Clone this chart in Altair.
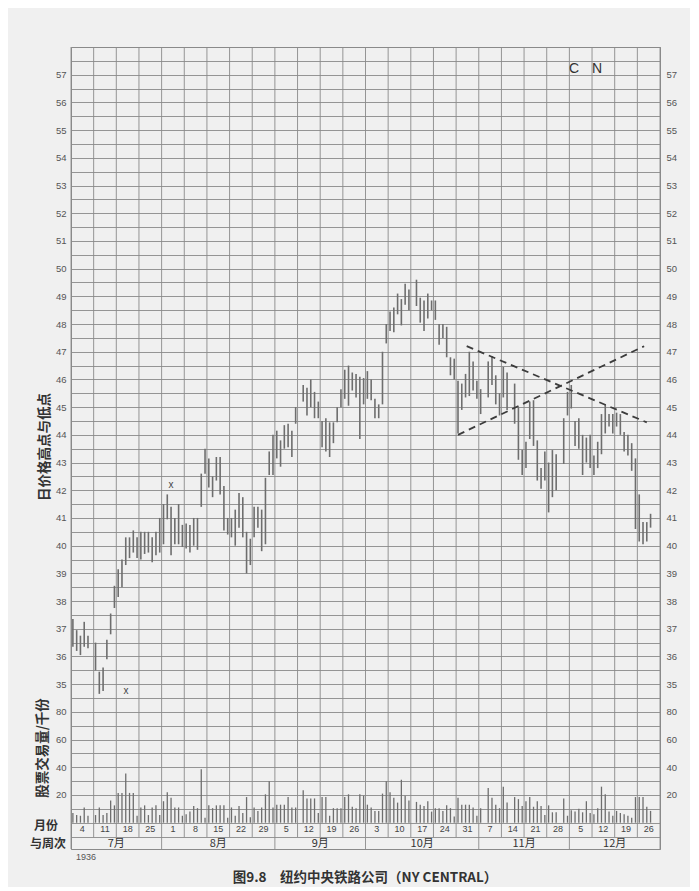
import altair as alt
import pandas as pd

# ---------------- data ----------------
WEEK_LABELS = ["4", "11", "18", "25", "1", "8", "15", "22", "29", "5", "12", "19", "26",
               "3", "10", "17", "24", "31", "7", "14", "21", "28", "5", "12", "19", "26"]
MONTHS = ["7月", "8月", "9月", "10月", "11月", "12月"]
WEEKS_PER_MONTH = [4, 5, 4, 5, 4, 4]
# six trading-day slots per week; slots without a bar (holidays)
NO_TRADE_SLOTS = [5, 60, 90, 109, 116, 129, 154, 155]

HIGH = [
    37.35, 36.95, 36.75, 37.25, 36.75,
    36.5, 35.45, 35.6, 36.6, 37.55, 38.55,
    39.15, 39.5, 40.3, 40.3, 40.55, 40.3,
    40.5, 40.5, 40.5, 40.3, 40.5, 41.0,
    41.5, 41.85, 41.4, 41.0, 41.5, 40.75,
    40.8, 40.75, 41.0, 41.0, 42.6, 43.5,
    43.15, 42.5, 43.2, 43.2, 42.15, 41.0,
    41.0, 41.3, 41.9, 41.75, 40.5, 40.25,
    41.4, 41.4, 41.3, 42.45, 43.4, 44.0,
    44.15, 43.8, 44.35, 44.4, 44.15, 45.0,
    45.8, 45.7, 46.0, 45.55, 45.2,
    44.5, 44.6, 44.45, 44.45, 45.0, 45.65,
    46.35, 46.5, 46.25, 46.2, 46.1, 46.05,
    46.3, 46.0, 45.3, 45.1, 47.0, 48.0,
    48.45, 48.6, 49.1, 48.9, 49.45, 49.25,
    49.6, 48.95, 48.85, 49.1, 48.85,
    48.85, 48.0, 48.0, 47.9, 46.8, 46.75,
    45.95, 45.85, 46.2, 47.0, 46.65, 45.95,
    45.65, 46.65, 46.85, 46.15, 45.5,
    46.45, 46.25, 45.85, 45.0, 43.45,
    43.75, 45.2, 45.25, 43.8, 42.8, 43.4,
    43.0, 43.45, 43.3, 44.6, 45.55,
    45.8, 44.5, 44.6, 44.0, 43.9, 44.0,
    43.25, 43.75, 44.75, 45.1, 44.75, 44.75,
    44.8, 44.75, 44.1, 44.0, 43.7, 43.15,
    41.85, 40.85, 40.85, 41.15,
]
LOW = [
    36.35, 36.2, 36.05, 36.35, 36.3,
    35.5, 34.65, 34.75, 35.9, 36.8, 37.75,
    38.15, 38.5, 39.3, 39.55, 39.75, 39.55,
    39.5, 39.7, 39.75, 39.4, 39.65, 39.75,
    40.05, 40.95, 39.65, 40.05, 40.05, 39.95,
    39.9, 39.75, 40.0, 39.85, 41.4, 42.6,
    42.1, 41.75, 42.35, 41.85, 40.55, 40.4,
    40.3, 40.0, 40.65, 40.3, 39.0, 39.3,
    40.3, 40.65, 39.8, 40.05, 42.55, 42.55,
    43.15, 42.85, 43.5, 43.55, 43.2, 44.4,
    45.2, 44.7, 45.0, 44.6, 44.6,
    43.55, 43.4, 43.2, 43.7, 44.45, 45.0,
    45.3, 45.05, 45.6, 45.35, 43.85, 45.1,
    45.3, 45.25, 44.6, 44.6, 45.1, 47.3,
    47.75, 47.7, 48.35, 47.95, 48.7, 48.5,
    48.65, 48.05, 47.75, 48.2, 48.5,
    48.15, 47.25, 47.5, 46.8, 46.15, 46.0,
    44.05, 44.9, 45.35, 45.4, 45.6, 45.3,
    44.75, 45.35, 45.8, 45.1, 44.7,
    45.35, 44.9, 44.4, 43.1, 42.55,
    42.8, 43.85, 43.6, 42.35, 42.05, 42.35,
    41.2, 41.75, 42.0, 42.95, 44.7,
    44.95, 43.6, 43.5, 42.55, 43.0, 42.8,
    42.55, 42.8, 43.3, 44.05, 44.3, 44.05,
    44.3, 44.0, 43.4, 43.25, 42.7, 40.6,
    40.15, 40.05, 40.15, 40.65,
]
VOLUME = [
    7, 5.5, 5, 11, 5,
    5.5, 11, 5.5, 7, 16, 12.5,
    21.5, 21.5, 35.5, 21.5, 21.5, 5,
    11, 12.5, 5.5, 11, 12.5, 5.5,
    15.5, 22, 18, 11, 11, 5,
    6, 8, 12, 10.5, 38.5, 3.5,
    12.5, 10.5, 12.5, 12.5, 12.5, 3.5,
    11, 5, 12, 7, 18.5, 4,
    11, 8.5, 11, 20.5, 30, 11,
    13, 13, 13, 18.5, 11, 11,
    23.5, 17.5, 17.5, 17.5, 7,
    18.5, 18.5, 5, 10.5, 10.5, 10.5,
    18.5, 20.5, 11.5, 10.5, 20.5, 19.5,
    13, 11, 8.5, 8.5, 21, 30,
    22, 18, 14.5, 31, 19.5, 16,
    15, 13, 12, 15.5, 8,
    10.5, 10.5, 8.5, 12.5, 10.5, 4.5,
    18, 13, 13, 13, 11, 5,
    10.5, 25, 18, 13, 10.5,
    26, 14.5, 18.5, 17, 12,
    15.5, 18.5, 11.5, 15.5, 12, 5.5,
    12.5, 7.5, 7.5, 17.5, 5,
    9, 8, 10, 7.5, 15.5, 7,
    6, 10.5, 26, 20.5, 8, 5,
    8.5, 7, 6, 5, 3.5, 18.5,
    18.5, 18.5, 11.5, 8.5,
]
# dashed triangle lines (day slot, price)
TREND_DAY = [104.8, 152.5, 102.5, 151.8]
TREND_PRICE = [47.2, 44.45, 44.0, 47.2]
TREND_ID = ["upper", "upper", "lower", "lower"]
# small "x" marks
MARK_DAY = [26.5, 14.6]
MARK_PRICE = [42.2, 34.77]

# ---------------- layout of the shared vertical grid ----------------
# volume sits under the price panel on one scale: 20 (thousand shares) per price unit, 0 at 30
VOL_BASE = 30.0
VOL_PER_UNIT = 20.0
TOP = 58.0
WEEK_ROW_BOTTOM = 29.48
MONTH_ROW_BOTTOM = 29.05
DAYS_PER_WEEK = 6

n_weeks = len(WEEK_LABELS)
n_slots = n_weeks * DAYS_PER_WEEK
slots = [s for s in range(n_slots) if s not in NO_TRADE_SLOTS]
assert len(slots) == len(HIGH) == len(LOW) == len(VOLUME)

bars = pd.DataFrame({"x": [s + 0.5 for s in slots], "high": HIGH, "low": LOW, "vol": VOLUME})
trend = pd.DataFrame({"x": TREND_DAY, "y": TREND_PRICE, "id": TREND_ID})
marks = pd.DataFrame({"x": MARK_DAY, "y": MARK_PRICE, "t": ["x", "x"]})

week_lines = pd.DataFrame({"x": [k * DAYS_PER_WEEK for k in range(n_weeks + 1)],
                           "y1": WEEK_ROW_BOTTOM, "y2": TOP})
cum = [0]
for w in WEEKS_PER_MONTH:
    cum.append(cum[-1] + w)
month_lines = pd.DataFrame({"x": [c * DAYS_PER_WEEK for c in cum],
                            "y1": MONTH_ROW_BOTTOM, "y2": WEEK_ROW_BOTTOM})
week_text = pd.DataFrame({"x": [k * DAYS_PER_WEEK + DAYS_PER_WEEK / 2 for k in range(n_weeks)],
                          "y": (WEEK_ROW_BOTTOM + VOL_BASE) / 2 + 0.02, "t": WEEK_LABELS})
month_text = pd.DataFrame({"x": [(cum[i] + cum[i + 1]) / 2 * DAYS_PER_WEEK for i in range(len(MONTHS))],
                           "y": (MONTH_ROW_BOTTOM + WEEK_ROW_BOTTOM) / 2 - 0.02, "t": MONTHS})

GRID = "#8a8a8a"
BAR = "#6e6e6e"
LABEL = "#555555"
DARK = "#333333"
CJK = "Noto Sans CJK SC"
LAT = "Liberation Sans"

W, H = 589, 802
XS = alt.Scale(domain=[0, n_slots], nice=False, zero=False)
YS = alt.Scale(domain=[MONTH_ROW_BOTTOM, TOP], nice=False, zero=False)

grid_values = [MONTH_ROW_BOTTOM, WEEK_ROW_BOTTOM] + [VOL_BASE + 0.5 * i for i in range(int((TOP - VOL_BASE) * 2) + 1)]
label_expr = ("(datum.value >= 34.75 && datum.value <= 57.5 && datum.value % 1 == 0) ? '' + datum.value : "
              "((datum.value >= 31 && datum.value <= 34 && datum.value % 1 == 0) ? '' + ((datum.value - 30) * 20) : '')")

LEFT_AXIS = alt.Axis(orient="left", values=grid_values, grid=True, gridColor=GRID, gridWidth=0.9,
                     ticks=False, domain=False, labelExpr=label_expr, labelFont=LAT, labelFontSize=9.5,
                     labelColor=LABEL, labelPadding=5, labelOverlap=False, labelFlush=False, title=None)
RIGHT_AXIS = alt.Axis(orient="right", values=grid_values, grid=False,
                      ticks=False, domain=False, labelExpr=label_expr, labelFont=LAT, labelFontSize=9.5,
                      labelColor=LABEL, labelPadding=6, labelOverlap=False, labelFlush=False, title=None)

X_ENC = alt.X("x:Q", scale=XS, axis=None)

vgrid_week = alt.Chart(week_lines).mark_rule(color=GRID, strokeWidth=0.9).encode(
    x=X_ENC, y=alt.Y("y1:Q", scale=YS, axis=None), y2="y2:Q")
vgrid_month = alt.Chart(month_lines).mark_rule(color=GRID, strokeWidth=0.9).encode(
    x=X_ENC, y=alt.Y("y1:Q", scale=YS, axis=None), y2="y2:Q")

price = alt.Chart(bars).mark_rule(color=BAR, strokeWidth=1.6).encode(
    x=X_ENC, y=alt.Y("low:Q", scale=YS, axis=LEFT_AXIS), y2="high:Q")

volume = alt.Chart(bars).transform_calculate(
    vtop=f"{VOL_BASE} + datum.vol / {VOL_PER_UNIT}", vbase=f"{VOL_BASE}"
).mark_rule(color=BAR, strokeWidth=1.3).encode(
    x=X_ENC, y=alt.Y("vtop:Q", scale=YS, axis=RIGHT_AXIS), y2="vbase:Q")

trend_lines = alt.Chart(trend).mark_line(color="#3c3c3c", strokeWidth=1.8, strokeDash=[7, 5]).encode(
    x=X_ENC, y=alt.Y("y:Q", scale=YS, axis=None), detail="id:N")

x_marks = alt.Chart(marks).mark_text(font=LAT, fontSize=10, color="#444444").encode(
    x=X_ENC, y=alt.Y("y:Q", scale=YS, axis=None), text="t:N")

week_lbl = alt.Chart(week_text).mark_text(font=LAT, fontSize=9, color="#444444", baseline="middle").encode(
    x=X_ENC, y=alt.Y("y:Q", scale=YS, axis=None), text="t:N")
month_lbl = alt.Chart(month_text).mark_text(font=CJK, fontSize=11, color=DARK, baseline="middle").encode(
    x=X_ENC, y=alt.Y("y:Q", scale=YS, axis=None), text="t:N")


def note(txt, px, py, size, font=CJK, weight="normal", angle=0, color=DARK, align="center"):
    return alt.Chart(pd.DataFrame({"t": [txt]})).mark_text(
        font=font, fontSize=size, fontWeight=weight, angle=angle, color=color,
        align=align, baseline="middle").encode(x=alt.value(px), y=alt.value(py), text="t:N")


notes = [
    note("日价格高点与低点", -26, 400, 13.5, weight="bold", angle=270),
    note("股票交易量/千份", -28, 701, 13.5, weight="bold", angle=270),
    note("月份", -25, 779, 12, weight="bold"),
    note("与周次", -23, 797, 12, weight="bold"),
    note("1936", 15, 810, 9, font=LAT, color=LABEL),
    note("C", 503, 22, 14, font=LAT),
    note("N", 526, 22, 14, font=LAT),
    note("图9.8　纽约中央铁路公司（NY CENTRAL）", 294, 831, 13.5, weight="bold"),
]

chart = alt.layer(
    vgrid_week, vgrid_month, price, volume, trend_lines, x_marks, week_lbl, month_lbl, *notes
).resolve_scale(y="independent").properties(
    width=W, height=H,
    autosize=alt.AutoSizeParams(type="none"),
    padding={"left": 63, "top": 39, "right": 30, "bottom": 38},
    background="#f0f0f0",
).configure_view(stroke=GRID, strokeWidth=1)

chart.save("out.html", embed_options={"renderer": "svg", "actions": False})
